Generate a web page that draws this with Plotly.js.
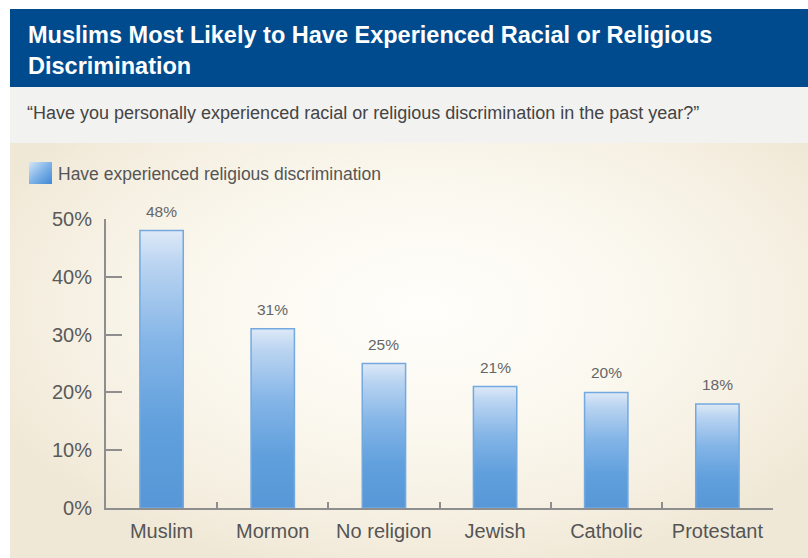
<!DOCTYPE html>
<html>
<head>
<meta charset="utf-8">
<script src="https://cdn.plot.ly/plotly-3.0.1.min.js"></script>
<style>
  html, body { margin:0; padding:0; background:#ffffff; }
  #wrap { position:relative; width:808px; height:558px; overflow:hidden; }
  #bg { position:absolute; left:10px; top:143px; width:798px; height:415px;
        background: radial-gradient(ellipse 60% 65% at 52% 40%, #fffefb 0%, #fbf8ef 45%, #f5efe1 80%, #f0e8d6 100%); }
  #chart { position:absolute; left:0; top:0; width:808px; height:558px; }
</style>
</head>
<body>
<div id="wrap">
  <div id="bg"></div>
  <div id="chart"></div>
</div>
<script>
// ---- data ----
const categories = ["Muslim", "Mormon", "No religion", "Jewish", "Catholic", "Protestant"];
const values = [48, 31, 25, 21, 20, 18];
const valueLabels = ["48%", "31%", "25%", "21%", "20%", "18%"];
const yTickVals = [0, 10, 20, 30, 40, 50];
const yTickText = ["0%", "10%", "20%", "30%", "40%", "50%"];
const seriesName = "Have experienced religious discrimination";
const titleText = "Muslims Most Likely to Have Experienced Racial or Religious<br>Discrimination";
const subtitleText = "\u201CHave you personally experienced racial or religious discrimination in the past year?\u201D";

// ---- layout geometry (pixels) ----
const W = 808, H = 558;
const M = { l: 106, r: 35, t: 219, b: 50 };
const PW = W - M.l - M.r, PH = H - M.t - M.b;
const px = x => (x - M.l) / PW;
const py = y => (H - M.b - y) / PH;

const FONT = "Liberation Sans, Arial, Helvetica, sans-serif";
const axisGrey = "#8e8e8e";

const trace = {
  type: "bar",
  x: categories,
  y: values,
  name: seriesName,
  marker: { color: "#8dbbe9", line: { color: "#74a9e0", width: 1.5 } },
  width: 0.39,
  hoverinfo: "skip",
  showlegend: false
};

const annotations = categories.map((c, i) => ({
  x: c, y: values[i], xref: "x", yref: "y",
  text: valueLabels[i], showarrow: false,
  yanchor: "bottom", yshift: 9,
  font: { family: FONT, size: 15.5, color: "#666666" }
}));

annotations.push({
  xref: "paper", yref: "paper", x: px(26), y: py(20),
  xanchor: "left", yanchor: "top", align: "left", showarrow: false,
  text: titleText,
  font: { family: FONT, size: 23.5, color: "#ffffff", weight: "bold" }
});
annotations.push({
  xref: "paper", yref: "paper", x: px(25), y: py(113),
  xanchor: "left", yanchor: "middle", showarrow: false,
  text: subtitleText,
  font: { family: FONT, size: 18, color: "#444444" }
});
annotations.push({
  xref: "paper", yref: "paper", x: px(56), y: py(174),
  xanchor: "left", yanchor: "middle", showarrow: false,
  text: seriesName,
  font: { family: FONT, size: 17.5, color: "#555555" }
});

const shapes = [
  { type: "rect", xref: "paper", yref: "paper", layer: "below",
    x0: px(10), x1: px(808), y0: py(9), y1: py(87),
    fillcolor: "#004b8e", line: { width: 0 } },
  { type: "rect", xref: "paper", yref: "paper", layer: "below",
    x0: px(10), x1: px(808), y0: py(87), y1: py(143),
    fillcolor: "#f2f2f1", line: { width: 0 } },
  { type: "rect", xref: "paper", yref: "paper", layer: "above",
    x0: px(29), x1: px(52), y0: py(162), y1: py(184),
    fillcolor: "#8dbbe9", line: { width: 0 } }
];

const layout = {
  width: W, height: H,
  margin: M,
  paper_bgcolor: "rgba(0,0,0,0)",
  plot_bgcolor: "rgba(0,0,0,0)",
  showlegend: false,
  bargap: 0.61,
  xaxis: {
    type: "category",
    range: [-0.5, 5.5],
    showline: true, linecolor: axisGrey, linewidth: 2,
    ticks: "inside", tickson: "boundaries", ticklen: 6, tickwidth: 2, tickcolor: axisGrey,
    showgrid: false, zeroline: false,
    tickfont: { family: FONT, size: 20, color: "#555555" },
    ticklabelstandoff: 4,
    fixedrange: true
  },
  yaxis: {
    range: [0, 50],
    tickvals: yTickVals, ticktext: yTickText,
    showline: true, linecolor: axisGrey, linewidth: 2,
    ticks: "inside", ticklen: 16, tickwidth: 2, tickcolor: axisGrey,
    showgrid: false, zeroline: false,
    tickfont: { family: FONT, size: 20, color: "#5a5a5a" },
    ticklabelstandoff: 8,
    fixedrange: true
  },
  annotations: annotations,
  shapes: shapes
};

Plotly.newPlot("chart", [trace], layout, { staticPlot: true, displayModeBar: false }).then(gd => {
  const svg = gd.querySelector("svg.main-svg");
  let defs = svg.querySelector("defs");
  const ns = "http://www.w3.org/2000/svg";
  if (!defs) { defs = document.createElementNS(ns, "defs"); svg.insertBefore(defs, svg.firstChild); }
  function makeGrad(id, stops, x2, y2) {
    const g = document.createElementNS(ns, "linearGradient");
    g.setAttribute("id", id);
    g.setAttribute("x1", "0"); g.setAttribute("y1", "0");
    g.setAttribute("x2", x2); g.setAttribute("y2", y2);
    stops.forEach(s => {
      const st = document.createElementNS(ns, "stop");
      st.setAttribute("offset", s[0]); st.setAttribute("stop-color", s[1]);
      g.appendChild(st);
    });
    defs.appendChild(g);
  }
  makeGrad("barGrad", [["0", "#dde9f7"], ["0.12", "#bad4f1"], ["0.4", "#84b5e7"], ["0.7", "#61a0dd"], ["1", "#5797d7"]], "0", "1");
  makeGrad("legGrad", [["0", "#d4e6f8"], ["0.5", "#7fb3e7"], ["1", "#3f88d4"]], "1", "1");
  gd.querySelectorAll(".trace.bars .point path").forEach(p => {
    p.style.fill = "url(#barGrad)";
  });
  gd.querySelectorAll(".shapelayer path").forEach(p => {
    if (p.getAttribute("data-index") === "2") p.style.fill = "url(#legGrad)";
  });
});
</script>
</body>
</html>
